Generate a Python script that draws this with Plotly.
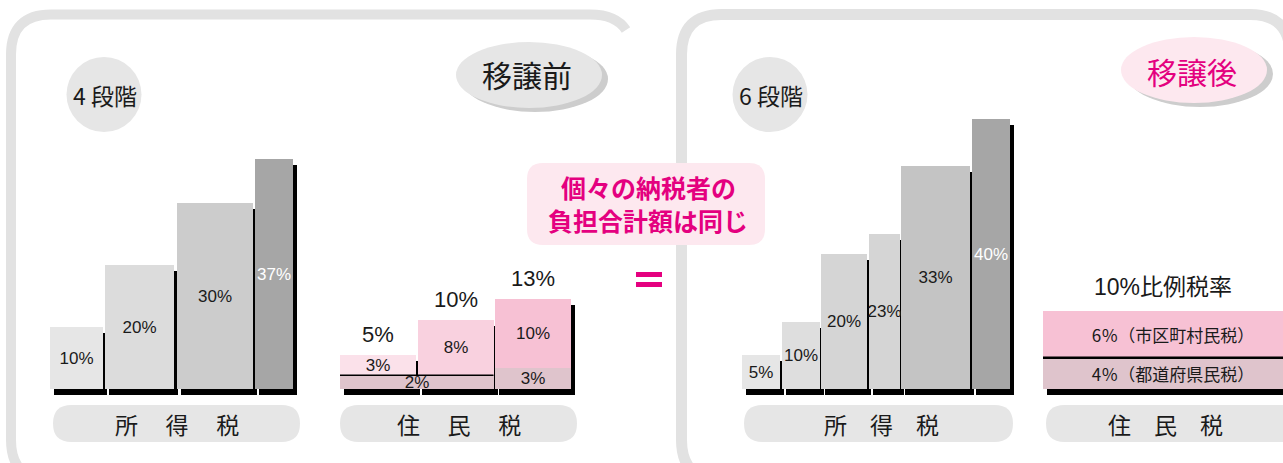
import plotly.graph_objects as go

# ---------------- data ----------------
before_income_rates = [10, 20, 30, 37]          # 所得税 移譲前 (4段階)
after_income_rates = [5, 10, 20, 23, 33, 40]    # 所得税 移譲後 (6段階)
before_muni_rates = [3, 8, 10]                  # 住民税 移譲前 (市町村民税)
before_pref_rates = [2, 2, 3]                   # 住民税 移譲前 (道府県民税)
after_muni_rate = [6]                           # 住民税 移譲後 (市区町村民税)
after_pref_rate = [4]                           # 住民税 移譲後 (都道府県民税)
after_muni_label = ["6％（市区町村民税）"]
after_pref_label = ["4％（都道府県民税）"]
flat_rate_title = "10%比例税率"
panel_titles = ["移譲前", "移譲後"]
stage_labels = ["4 段階", "6 段階"]
group_labels = ["所得税", "住民税"]
callout_lines = ["個々の納税者の", "負担合計額は同じ"]

# ---------------- style / layout ----------------
W, H = 1283, 463
BASE = 389          # pixel row of the bar baseline
DX, DY = 4, 6       # shadow offset in px
S_BI, S_BR, S_AI, S_AR = 6.21, 6.9, 6.75, 7.8   # px per percent for each group
MAG = "#e4007f"
TXT = "#1a1a1a"
LAT = "Liberation Sans, Arial, sans-serif"
NARROW = "Liberation Sans Narrow, Liberation Sans, sans-serif"
JP = "Noto Sans CJK JP, sans-serif"
MIX = "Liberation Sans, Noto Sans CJK JP, sans-serif"

bi_colors = ["#e6e6e6", "#dcdcdc", "#cccccc", "#a6a6a6"]
ai_colors = ["#e6e6e6", "#dedede", "#d5d5d5", "#d5d5d5", "#c4c4c4", "#a6a6a6"]
muni_colors = ["#fbe1ea", "#f9d1df", "#f7c1d4"]
PREF = "#dfc4cc"
AMUNI = "#f7c1d4"


def rng(s):
    return [-(H - BASE) / s, BASE / s]


def centers_of(x0, widths, gap):
    cs, lefts, x = [], [], x0
    for w in widths:
        lefts.append(x)
        cs.append(x + w / 2)
        x += w + gap
    return cs, lefts


def spaced(label, sep):
    return sep.join(label)


fig = go.Figure()


def shadow(xs, ws, vals, yax, s):
    fig.add_trace(go.Bar(x=[c + DX for c in xs], y=vals, width=ws,
                         base=[-DY / s] * len(vals), yaxis=yax,
                         marker=dict(color="black", line=dict(width=0)),
                         hoverinfo="skip", showlegend=False))


def bars(xs, ws, vals, bases, colors, texts, tcolors, tsizes, yax, family=LAT):
    fig.add_trace(go.Bar(x=xs, y=vals, width=ws, base=bases, yaxis=yax,
                         marker=dict(color=colors, line=dict(width=0)),
                         text=texts, textposition="inside", insidetextanchor="middle",
                         textangle=0, constraintext="none",
                         textfont=dict(color=tcolors, size=tsizes, family=family),
                         hoverinfo="skip", showlegend=False))


# --- 移譲前 所得税 ---
bi_w = [52.5, 69, 76, 38]
bi_c, _ = centers_of(50, bi_w, 2.5)
shadow(bi_c, bi_w, before_income_rates, "y", S_BI)
bars(bi_c, bi_w, before_income_rates, [0] * 4, bi_colors,
     [f"{v}%" for v in before_income_rates],
     [TXT, TXT, TXT, "white"], [17] * 4, "y")

# --- 移譲後 所得税 ---
ai_w = [38, 38, 45.5, 31, 69, 37.5]
ai_c, _ = centers_of(742, ai_w, 1.7)
shadow(ai_c, ai_w, after_income_rates, "y3", S_AI)
bars(ai_c, ai_w, after_income_rates, [0] * 6, ai_colors,
     [f"{v}%" for v in after_income_rates],
     [TXT] * 5 + ["white"], [17] * 6, "y3")
fig.data[-1].textfont.family = [LAT, LAT, LAT, NARROW, LAT, LAT]

# --- 移譲前 住民税 (stacked) ---
br_w = [76, 76, 76]
br_gap = 1.5
br_c, br_l = centers_of(340, br_w, br_gap)
totals = [m + p for m, p in zip(before_muni_rates, before_pref_rates)]
shadow(br_c, br_w, totals, "y2", S_BR)
groups = []
i = 0
while i < len(before_pref_rates):
    j = i
    while j + 1 < len(before_pref_rates) and before_pref_rates[j + 1] == before_pref_rates[i]:
        j += 1
    groups.append((i, j))
    i = j + 1
g_x, g_w, g_v = [], [], []
for a, b in groups:
    left = br_l[a]
    right = br_l[b] + br_w[b]
    g_x.append((left + right) / 2)
    g_w.append(right - left)
    g_v.append(before_pref_rates[a])
bars(g_x, g_w, g_v, [0] * len(g_v), [PREF] * len(g_v),
     [f"{v}%" for v in g_v], [TXT] * len(g_v), [17] * len(g_v), "y2")
bars(br_c, br_w, before_muni_rates, before_pref_rates, muni_colors,
     [f"{v}%" for v in before_muni_rates], [TXT] * 3, [17] * 3, "y2")

# --- 移譲後 住民税 ---
ar_c, ar_w = [1173], [260]
shadow(ar_c, ar_w, [after_muni_rate[0] + after_pref_rate[0]], "y4", S_AR)
bars(ar_c, ar_w, after_pref_rate, [0], [PREF], after_pref_label, [TXT], [17], "y4", JP)
bars(ar_c, ar_w, after_muni_rate, after_pref_rate, [AMUNI], after_muni_label, [TXT], [17], "y4", JP)

# ---------------- decorations ----------------
shapes = []
PX = dict(xref="x", yref="y5")


def rrect(x0, y0, x1, y1, r):
    return (f"M{x0 + r},{y0} L{x1 - r},{y0} Q{x1},{y0} {x1},{y0 + r} L{x1},{y1 - r} "
            f"Q{x1},{y1} {x1 - r},{y1} L{x0 + r},{y1} Q{x0},{y1} {x0},{y1 - r} "
            f"L{x0},{y0 + r} Q{x0},{y0} {x0 + r},{y0} Z")


shapes.append(dict(type="path", **PX, layer="below",
                   path="M626,30 Q616,14.5 590,14.5 L51,14.5 Q11,14.5 11,54.5 L11,440 Q11,480 51,480",
                   line=dict(color="#e2e2e2", width=10)))
shapes.append(dict(type="path", **PX, layer="below",
                   path="M721.5,480 Q681.5,480 681.5,440 L681.5,54.5 Q681.5,14.5 721.5,14.5 L1250,14.5 Q1290,14.5 1290,54.5",
                   line=dict(color="#e2e2e2", width=11)))
for cx in (104, 770):
    shapes.append(dict(type="circle", **PX, layer="below", x0=cx - 37.5, x1=cx + 37.5,
                       y0=57, y1=132, fillcolor="#e6e6e6", line=dict(width=0)))
for cx, cy, face in ((529, 75, "#e6e6e6"), (1194, 70, "#fde8ef")):
    shapes.append(dict(type="circle", **PX, layer="below", x0=cx - 73 + 6, x1=cx + 73 + 6,
                       y0=cy - 33 + 4, y1=cy + 33 + 4, fillcolor="#cdcdcd", line=dict(width=0)))
    shapes.append(dict(type="circle", **PX, layer="below", x0=cx - 73, x1=cx + 73,
                       y0=cy - 33, y1=cy + 33, fillcolor=face, line=dict(width=0)))
shapes.append(dict(type="path", **PX, layer="below", path=rrect(527, 163, 765, 245, 16),
                   fillcolor="#fde8ef", line=dict(width=0)))
for y0 in (272, 282):
    shapes.append(dict(type="rect", **PX, layer="above", x0=636, x1=662, y0=y0, y1=y0 + 5,
                       fillcolor=MAG, line=dict(width=0)))
pills = [(53, 300), (340, 577), (744, 1013), (1046, 1320)]
for x0, x1 in pills:
    shapes.append(dict(type="path", **PX, layer="below", path=rrect(x0, 405, x1, 442, 18.5),
                       fillcolor="#e6e6e6", line=dict(width=0)))
for a, b in groups:
    if b > a:
        shapes.append(dict(type="line", xref="x", yref="y2", x0=br_l[a], x1=br_l[b] + br_w[b],
                           y0=before_pref_rates[a], y1=before_pref_rates[a],
                           line=dict(color="black", width=1.5)))
shapes.append(dict(type="line", xref="x", yref="y4", x0=ar_c[0] - ar_w[0] / 2, x1=ar_c[0] + ar_w[0] / 2,
                   y0=after_pref_rate[0], y1=after_pref_rate[0], line=dict(color="black", width=2.5)))

# ---------------- texts ----------------
ann = []


def txt(x, y, t, size, color=TXT, family=JP, **kw):
    d = dict(x=x, y=y, text=t, showarrow=False, font=dict(size=size, color=color, family=family),
             xref="x", yref="y5", xanchor="center", yanchor="middle", borderpad=0)
    d.update(kw)
    ann.append(d)


txt(105, 95, stage_labels[0], 23)
txt(771, 95, stage_labels[1], 23)
txt(527, 74, panel_titles[0], 30)
txt(1192, 71, panel_titles[1], 30, color=MAG)
txt(648, 187, f"<b>{callout_lines[0]}</b>", 25, color=MAG)
txt(648, 220, f"<b>{callout_lines[1]}</b>", 25, color=MAG)
wide = "　\u2009"
txt(177, 424, spaced(group_labels[0], wide), 23)
txt(459, 424, spaced(group_labels[1], wide), 23)
txt(881, 424, spaced(group_labels[0], "　"), 23)
txt(1165, 424, spaced(group_labels[1], "　"), 23)
for c, t in zip(br_c, totals):
    ann.append(dict(x=c, y=t, yref="y2", xref="x", text=f"{t}%", showarrow=False,
                    yanchor="bottom", yshift=6, font=dict(size=22, color=TXT, family=LAT)))
ann.append(dict(x=ar_c[0], y=after_muni_rate[0] + after_pref_rate[0], xref="x", yref="y4",
                text=flat_rate_title, showarrow=False, yanchor="bottom", yshift=9, xshift=-10,
                font=dict(size=23, color=TXT, family=MIX)))

fig.update_layout(
    width=W, height=H, margin=dict(l=0, r=0, t=0, b=0),
    paper_bgcolor="white", plot_bgcolor="white",
    barmode="overlay", bargap=0, hovermode=False, showlegend=False,
    shapes=shapes, annotations=ann,
    xaxis=dict(range=[0, W], visible=False, fixedrange=True, domain=[0, 1]),
    yaxis=dict(range=rng(S_BI), visible=False, fixedrange=True, domain=[0, 1]),
    yaxis2=dict(range=rng(S_BR), visible=False, fixedrange=True, overlaying="y"),
    yaxis3=dict(range=rng(S_AI), visible=False, fixedrange=True, overlaying="y"),
    yaxis4=dict(range=rng(S_AR), visible=False, fixedrange=True, overlaying="y"),
    yaxis5=dict(range=[H, 0], visible=False, fixedrange=True, overlaying="y"),
)

fig.write_html("out.html", config={"displayModeBar": False},
               post_script="document.body.style.margin='0px';document.body.style.overflow='hidden';")
